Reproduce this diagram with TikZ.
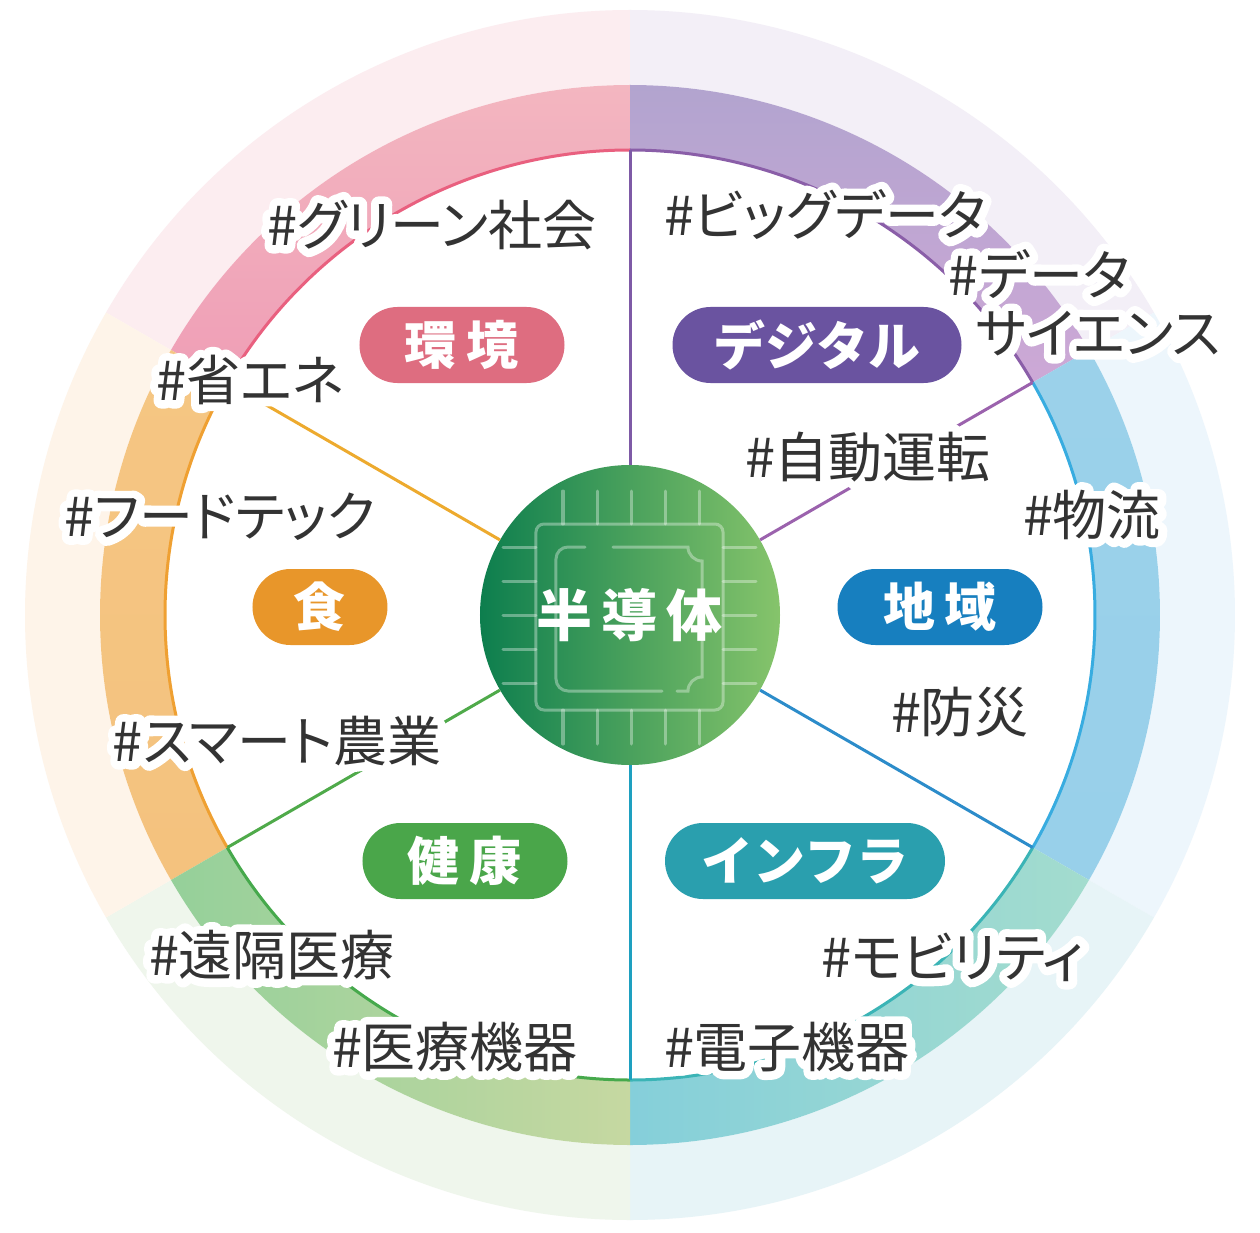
\documentclass[tikz,border=0pt]{standalone}
\usepackage{fontspec}
\newfontfamily\jp{Noto Sans CJK JP}
\newfontfamily\jptag[RawFeature=+palt]{Noto Sans CJK JP}
\newfontfamily\jphalo[RawFeature=+palt, FakeBold=30]{Noto Sans CJK JP}

\definecolor{tagGray}{HTML}{333333}
\definecolor{chipDark}{HTML}{0D7E4E}
\definecolor{chipLight}{HTML}{86C46B}
% pills
\definecolor{envPill}{HTML}{DE6D80}
\definecolor{digiPill}{HTML}{6A53A0}
\definecolor{foodPill}{HTML}{E8962A}
\definecolor{areaPill}{HTML}{177FBF}
\definecolor{healthPill}{HTML}{4AA64A}
\definecolor{infraPill}{HTML}{2A9FAE}
% ring
\definecolor{pinkA}{HTML}{F3B6C0}   \definecolor{pinkB}{HTML}{EF9EB6}
\definecolor{purpleA}{HTML}{B2A4CF} \definecolor{purpleB}{HTML}{CDA8D6}
\definecolor{blueA}{HTML}{9BD1EA}   \definecolor{blueB}{HTML}{98D0EA}
\definecolor{tealA}{HTML}{A3DCCE}   \definecolor{tealB}{HTML}{85CFDA}
\definecolor{greenA}{HTML}{95D09A}  \definecolor{greenB}{HTML}{C6D8A1}
\definecolor{orangeA}{HTML}{F5C683} \definecolor{orangeB}{HTML}{F4C27E}
% faint outer ring
\definecolor{pinkFaint}{HTML}{FCEDF0}
\definecolor{purpleFaint}{HTML}{F3EFF7}
\definecolor{blueFaint}{HTML}{EDF6FC}
\definecolor{tealFaint}{HTML}{E7F4F7}
\definecolor{greenFaint}{HTML}{EFF6EC}
\definecolor{orangeFaint}{HTML}{FEF4E9}
% edges and spokes
\definecolor{pinkEdge}{HTML}{E9607F}
\definecolor{purpleEdge}{HTML}{8A5EA8}
\definecolor{blueEdge}{HTML}{38ACE0}
\definecolor{tealEdge}{HTML}{3BB4B6}
\definecolor{greenEdge}{HTML}{46A94C}
\definecolor{orangeEdge}{HTML}{EFA032}
\definecolor{spokePurple}{HTML}{7E5AA6}
\definecolor{spokeViolet}{HTML}{9B62AD}
\definecolor{spokeBlue}{HTML}{2C8CCA}
\definecolor{spokeTeal}{HTML}{1EA0C0}
\definecolor{spokeGreen}{HTML}{4FAA4A}
\definecolor{spokeOrange}{HTML}{EDAA2E}

\tikzset{
  pill/.style={rounded corners=38pt, minimum height=76pt, inner sep=0pt,
    text=white, font=\jp\bfseries\fontsize{52}{52}\selectfont},
  tag/.style={inner sep=0pt, align=left, text=tagGray,
    font=\jptag\fontsize{54}{58}\selectfont},
  halo/.style={tag, text=white, line join=round,
    font=\jphalo\fontsize{54}{58}\selectfont},
  spoke/.style={line width=3pt},
  chipline/.style={white, opacity=0.35, line width=3pt, line cap=round},
}

% hashtag with a white halo
\newcommand\tagword[3]{%
  \node[halo] at (#2) {#3};
  \node[tag] (#1) at (#2) {#3};
}

\begin{document}
\begin{tikzpicture}[x=1pt, y=1pt]
\useasboundingbox (-630,-617) rectangle (630,615);
\fill[white] (-630,-617) rectangle (630,615);

%%%%%%%%%%%% Outer ring
  \foreach \a/\b/\faint in {90/150/pinkFaint, 30/90/purpleFaint, -30/30/blueFaint,
                            -90/-30/tealFaint, -150/-90/greenFaint, 150/210/orangeFaint}
    \fill[\faint] (\a:530) arc[start angle=\a, end angle=\b, radius=530]
      -- (\b:605) arc[start angle=\b, end angle=\a, radius=605] -- cycle;

  \foreach \a/\b/\ca/\cb in {90/150/pinkA/pinkB, 30/90/purpleA/purpleB, -30/30/blueA/blueB,
                             150/210/orangeA/orangeB}
    \shade[top color=\ca, bottom color=\cb] (\a:465) arc[start angle=\a, end angle=\b, radius=465]
      -- (\b:530) arc[start angle=\b, end angle=\a, radius=530] -- cycle;
  \foreach \a/\b/\ca/\cb in {-90/-30/tealB/tealA, -150/-90/greenA/greenB}
    \shade[left color=\ca, right color=\cb] (\a:465) arc[start angle=\a, end angle=\b, radius=465]
      -- (\b:530) arc[start angle=\b, end angle=\a, radius=530] -- cycle;

  \foreach \a/\b/\edge in {90/150/pinkEdge, 30/90/purpleEdge, -30/30/blueEdge,
                           -90/-30/tealEdge, -150/-90/greenEdge, 150/210/orangeEdge}
    \draw[line width=3pt, \edge] (\a:465) arc[start angle=\a, end angle=\b, radius=465];

%%%%%%%%%%%% Chip
  \node[circle, minimum size=300pt, inner sep=0pt, left color=chipDark, right color=chipLight,
        text=white, font=\jp\bfseries\fontsize{56}{56}\selectfont] (chip) at (0,0)
        {半\kern9pt導\kern9pt体};

  \foreach \ang/\col in {90/spokePurple, 30/spokeViolet, 330/spokeBlue,
                         270/spokeTeal, 210/spokeGreen, 150/spokeOrange} {
    \coordinate (rim\ang) at (\ang:465);
    \draw[spoke, \col] (chip.\ang) -- (rim\ang);
  }

  \begin{scope}[chipline]
    \draw[rounded corners=8pt] (-94,91) rectangle (93,-95);
    \foreach \p in {-68,-34,0,34,68} {
      \draw (\p+1,124) -- (\p+1,91);
      \draw (\p+1,-95) -- (\p+1,-129);
      \draw (-127,\p) -- (-94,\p);
      \draw (93,\p) -- (126,\p);
    }
    \draw (-45,68) -- (-62,68) arc[start angle=90, end angle=180, radius=12]
      -- (-74,-64) arc[start angle=180, end angle=270, radius=12] -- (32,-76);
    \draw (47,-76) -- (58,-76) arc[start angle=180, end angle=90, radius=14]
      -- (72,54) arc[start angle=270, end angle=180, radius=14] -- (-17,68);
  \end{scope}

%%%%%%%%%%%% Fields
  \node[pill, fill=envPill,    minimum width=205pt] (env)    at (-168,270) {環\kern10pt境};
  \node[pill, fill=digiPill,   minimum width=289pt] (digi)   at (187,270)  {デジタル};
  \node[pill, fill=foodPill,   minimum width=135pt] (food)   at (-310,8)   {食};
  \node[pill, fill=areaPill,   minimum width=205pt] (area)   at (310,8)    {地\kern10pt域};
  \node[pill, fill=healthPill, minimum width=205pt] (health) at (-165,-246) {健\kern10pt康};
  \node[pill, fill=infraPill,  minimum width=280pt] (infra)  at (175,-246) {インフラ};

%%%%%%%%%%%% Hashtags
  \tagword{green}{-198,390}{\#グリーン社会}
  \tagword{save}{-380,235}{\#省エネ}
  \tagword{foodtech}{-410,98}{\#フードテック}
  \tagword{farm}{-353,-126}{\#スマート農業}
  \tagword{remote}{-358,-340}{\#遠隔医療}
  \tagword{medical}{-175,-432}{\#医療機器}
  \tagword{bigdata}{195,400}{\#ビッグデータ}
  \tagword{science}{455,312}{\#データ\\\hspace*{27pt}サイエンス}
  \tagword{drive}{238,158}{\#自動運転}
  \tagword{logi}{462,100}{\#物流}
  \tagword{disaster}{330,-97}{\#防災}
  \tagword{mobility}{323,-342}{\#モビリティ}
  \tagword{device}{157,-432}{\#電子機器}
\end{tikzpicture}
\end{document}
